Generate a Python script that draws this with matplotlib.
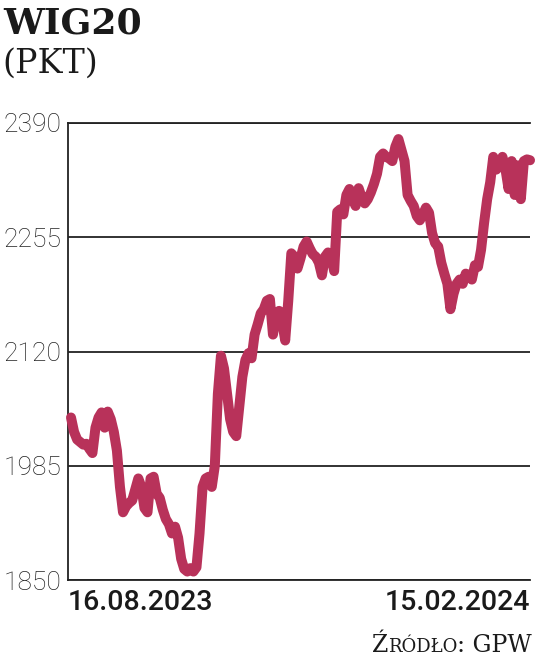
import numpy as np
import matplotlib.pyplot as plt
from matplotlib import font_manager

# WIG20 close, sessions from 16.08.2023 to 15.02.2024
wig = [2042, 2025, 2016, 2013, 2010, 2011, 2005, 2000, 2030, 2042,
       2048, 2030, 2049, 2040, 2025, 2003, 1960, 1930, 1937, 1941,
       1944, 1957, 1970, 1960, 1935, 1930, 1970, 1972, 1952, 1947,
       1933, 1922, 1916, 1905, 1913, 1900, 1875, 1863, 1860, 1864,
       1860, 1865, 1905, 1960, 1970, 1972, 1960, 1985, 2070, 2115,
       2100, 2070, 2040, 2025, 2020, 2055, 2090, 2110, 2118, 2112,
       2140, 2152, 2165, 2170, 2180, 2182, 2140, 2165, 2168, 2155,
       2133, 2180, 2236, 2232, 2218, 2230, 2244, 2250, 2242, 2235,
       2232, 2225, 2210, 2232, 2237, 2233, 2215, 2285, 2288, 2282,
       2305, 2312, 2300, 2292, 2313, 2302, 2295, 2300, 2308, 2318,
       2330, 2350, 2354, 2350, 2348, 2345, 2362, 2371, 2358, 2345,
       2305, 2298, 2292, 2280, 2275, 2282, 2290, 2284, 2260, 2248,
       2244, 2225, 2212, 2200, 2170, 2188, 2200, 2205, 2200, 2212,
       2210, 2205, 2222, 2220, 2240, 2272, 2300, 2320, 2350, 2335,
       2340, 2350, 2335, 2312, 2345, 2305, 2340, 2300, 2345, 2347,
       2346]
yticks = [1850, 1985, 2120, 2255, 2390]
date_first = '16.08.2023'
date_last = '15.02.2024'

names = {f.name for f in font_manager.fontManager.ttflist}
sans = 'Roboto' if 'Roboto' in names else 'DejaVu Sans'
serif = 'DejaVu Serif'
red = '#b8325a'
ink = '#1a1a1a'

fig = plt.figure(figsize=(5.36, 6.67), dpi=100)
ax = fig.add_axes([68 / 536, 87 / 667, 462 / 536, 457 / 667])

x = np.arange(len(wig))
ax.plot(x, wig, color=red, lw=7.2, solid_capstyle='round',
        solid_joinstyle='round', clip_on=False, zorder=3)

step = (530 - 71) / (len(wig) - 1)
ax.set_xlim(-3 / step, len(wig) - 1)
ax.set_ylim(1850, 2390)
ax.set_xticks([])
ax.set_yticks(yticks)
ax.set_yticklabels([str(v) for v in yticks], family=sans, fontweight='light',
                   fontsize=19, color='#222222')
ax.tick_params(axis='y', length=0, pad=5)
ax.grid(axis='y', color='#222222', lw=1.3)
ax.set_axisbelow(True)
for s in ('top', 'bottom', 'left'):
    ax.spines[s].set_color('#222222')
    ax.spines[s].set_linewidth(1.3)
ax.spines['right'].set_visible(False)

# date labels under the axis
ax.text(0, -0.02, date_first, transform=ax.transAxes, ha='left', va='top',
        family=sans, fontweight='medium', fontsize=20.5, color=ink)
ax.text(1, -0.02, date_last, transform=ax.transAxes, ha='right', va='top',
        family=sans, fontweight='medium', fontsize=20.5, color=ink)

# title
fig.text(3 / 536, 1 - 7 / 667, 'WIG20', ha='left', va='top', family=serif,
         fontweight='bold', fontsize=26, color=ink)
fig.text(2 / 536, 1 - 48 / 667, '(PKT)', ha='left', va='top', family=serif,
         fontsize=24, color=ink)

# source line in small caps, built from the right
t3 = fig.text(532 / 536, 1 - 657 / 667, ': GPW', ha='right', va='bottom',
              family=serif, fontsize=17, color=ink)
t2 = fig.text(0, 0, 'RÓDŁO', ha='right', va='bottom', family=serif,
              fontsize=13, color=ink)
fig.canvas.draw()
r = fig.canvas.get_renderer()
b3 = t3.get_window_extent(r)
t2.set_position((b3.x0 / fig.bbox.width, b3.y0 / fig.bbox.height + 0.0015))
fig.canvas.draw()
b2 = t2.get_window_extent(r)
fig.text(b2.x0 / fig.bbox.width, b3.y0 / fig.bbox.height, 'Ź', ha='right',
         va='bottom', family=serif, fontsize=17, color=ink)

fig.savefig('out.png', dpi=100)
